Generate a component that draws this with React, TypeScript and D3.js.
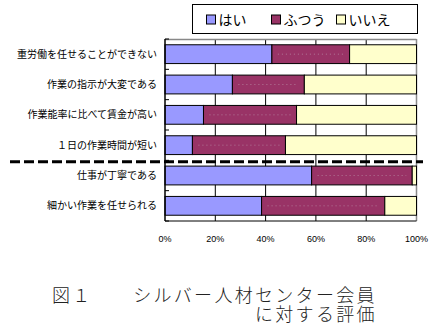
import React from "react";
import * as d3 from "d3";

const categories = [
  "重労働を任せることができない",
  "作業の指示が大変である",
  "作業能率に比べて賃金が高い",
  "１日の作業時間が短い",
  "仕事が丁寧である",
  "細かい作業を任せられる",
];
const seriesNames = ["はい", "ふつう", "いいえ"];
const hai = [42.5, 26.8, 15.3, 10.9, 58.3, 38.4];
const futsuu = [30.9, 28.6, 37.0, 37.0, 40.0, 49.0];
const iie = [26.6, 44.6, 47.7, 52.1, 1.7, 12.6];
const tickValues = [0, 20, 40, 60, 80, 100];
const colors = ["#9999FF", "#993366", "#FFFFCC"];
const titleLine1 = "図１　　シルバー人材センター会員";
const titleLine2 = "に対する評価";

export default function App() {
  const W = 433, H = 331;
  const left = 165, right = 416.5, top = 39, bottom = 221;
  const x = d3.scaleLinear().domain([0, 100]).range([left, right]);
  const y = d3.scaleBand<string>().domain(categories).range([top, bottom]).paddingInner(0.38).paddingOuter(0.19);
  const step = y.step();
  const rows = categories.map((c, i) => ({ c, vals: [hai[i], futsuu[i], iie[i]] }));
  const stacked = rows.map((r) => {
    let acc = 0;
    return r.vals.map((v) => { const s = acc; acc += v; return [s, Math.min(acc, 100)]; });
  });
  const jp = "'Noto Sans CJK JP', sans-serif";
  const fmt = (v: number) => `${v}%`;
  const dashY = top + 4 * step + 1.5;
  return (
    <svg width={W} height={H} style={{ position: "absolute", left: 0, top: 0, background: "#fff" }}>
      {/* legend */}
      <rect x={192.5} y={4.5} width={225} height={29} fill="#fff" stroke="#000" strokeWidth={1} />
      {seriesNames.map((n, i) => {
        const lx = [206.5, 271.5, 336.5][i];
        return (
          <g key={n}>
            <rect x={lx} y={15} width={9} height={9} fill={colors[i]} stroke="#000" strokeWidth={1} />
            <text x={lx + 12} y={24.5} fontSize={14} fontFamily={jp} fill="#000">{n}</text>
          </g>
        );
      })}
      {/* gridlines */}
      {tickValues.slice(1, -1).map((t) => (
        <line key={t} x1={x(t)} x2={x(t)} y1={top} y2={bottom} stroke="#000" strokeWidth={1} />
      ))}
      {/* plot border */}
      <line x1={left} x2={right} y1={top + 0.5} y2={top + 0.5} stroke="#888" strokeWidth={1.5} />
      <line x1={right} x2={right} y1={top} y2={bottom} stroke="#888" strokeWidth={1.5} />
      <line x1={left} x2={right} y1={bottom} y2={bottom} stroke="#000" strokeWidth={1} />
      {/* bars */}
      {rows.map((r, i) => (
        <g key={r.c}>
          {stacked[i].map(([s, e], j) => (
            <rect key={j} x={x(s)} y={y(r.c)!} width={x(e) - x(s)} height={y.bandwidth()}
              fill={colors[j]} stroke="#000" strokeWidth={1} />
          ))}
          {(() => {
            const [s, e] = stacked[i][1];
            const cy = y(r.c)! + y.bandwidth() / 2;
            return <line x1={x(s) + 6} x2={x(e) - 6} y1={cy} y2={cy} stroke="#b98aa3" strokeWidth={0.8} strokeDasharray="1 3" />;
          })()}
          <text x={157} y={y(r.c)! + y.bandwidth() / 2 + 3.5} fontSize={10} fontFamily={jp} textAnchor="end" fill="#000">{r.c}</text>
        </g>
      ))}
      {/* left axis */}
      <line x1={left} x2={left} y1={top} y2={bottom} stroke="#000" strokeWidth={1.5} />
      {d3.range(categories.length + 1).map((k) => (
        <line key={k} x1={left} x2={left + 4} y1={top + k * step} y2={top + k * step} stroke="#000" strokeWidth={1} />
      ))}
      {/* x tick labels */}
      {tickValues.map((t) => (
        <text key={t} x={x(t)} y={242} fontSize={9} fontFamily="'Liberation Sans', Arial, sans-serif" textAnchor="middle" fill="#000">{fmt(t)}</text>
      ))}
      {/* dashed separator */}
      <line x1={10} x2={423} y1={dashY} y2={dashY} stroke="#000" strokeWidth={3} strokeDasharray="10 4" />
      {/* title */}
      <text x={52} y={302} fontSize={18} letterSpacing={2.3} fontFamily={jp} fontWeight={300} fill="#222">{titleLine1}</text>
      <text x={255} y={321} fontSize={18} letterSpacing={2.3} fontFamily={jp} fontWeight={300} fill="#222">{titleLine2}</text>
    </svg>
  );
}
